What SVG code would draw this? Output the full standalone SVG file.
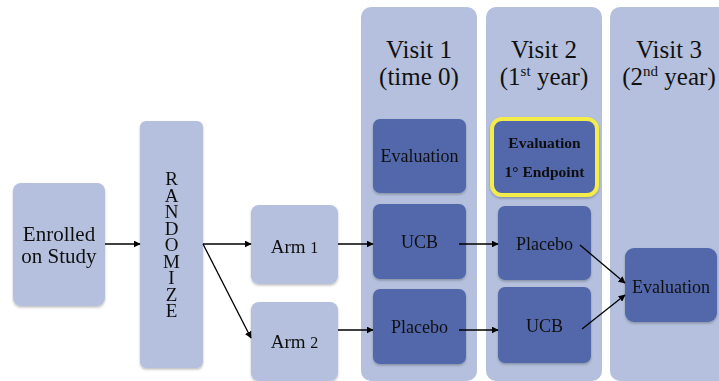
<svg xmlns="http://www.w3.org/2000/svg" width="719" height="381" viewBox="0 0 719 381" font-family="'Liberation Serif', 'Times New Roman', 'DejaVu Serif', serif">
<defs>
<style>
.lt{fill:#B4C0DD}
.dk{fill:#5367AA}
text{font-family:'Liberation Serif','Times New Roman','DejaVu Serif',serif;fill:#111;text-anchor:middle}
.hd{font-size:25px}
.bx{font-size:18px}
.vt{writing-mode:vertical-rl;text-orientation:upright;text-anchor:start;font-size:19px;letter-spacing:-4.5px}
.cn{stroke:#000;stroke-width:1.3;fill:none;marker-end:url(#ah)}
</style>
<marker id="ah" viewBox="0 0 10 10" refX="9" refY="5" markerWidth="7" markerHeight="7" orient="auto" markerUnits="userSpaceOnUse">
<path d="M0,0 L10,5 L0,10 z" fill="#000"/>
</marker>
<filter id="sh" x="-10%" y="-10%" width="120%" height="125%">
<feDropShadow dx="0" dy="1.5" stdDeviation="1" flood-color="#000" flood-opacity="0.25"/>
</filter>
</defs>
<rect width="719" height="381" fill="#fff"/>

<g id="col-visit1">
<rect class="lt" x="361" y="7" width="116" height="374" rx="10"/>
<text class="hd" x="419" y="58">Visit 1</text>
<text class="hd" x="419" y="85">(time 0)</text>
</g>
<g id="col-visit2">
<rect class="lt" x="486" y="7" width="116" height="374" rx="10"/>
<text class="hd" x="544" y="58">Visit 2</text>
<text class="hd" x="544" y="85">(1<tspan font-size="15" dy="-9">st</tspan><tspan dy="9"> year)</tspan></text>
</g>
<g id="col-visit3">
<rect class="lt" x="610" y="7" width="120" height="374" rx="10"/>
<text class="hd" x="669" y="58">Visit 3</text>
<text class="hd" x="669" y="85">(2<tspan font-size="15" dy="-9">nd</tspan><tspan dy="9"> year)</tspan></text>
</g>

<g id="enrolled" filter="url(#sh)">
<rect class="lt" x="13" y="183" width="92" height="123" rx="8"/>
<text font-size="21" x="59" y="241">Enrolled</text>
<text font-size="21" x="59" y="263">on Study</text>
</g>
<g id="randomize" filter="url(#sh)">
<rect class="lt" x="140" y="121" width="63" height="247" rx="6"/>
<text class="vt" x="171.5" y="168">RANDOMIZE</text>
</g>
<g id="arm1" filter="url(#sh)">
<rect class="lt" x="251" y="205" width="87" height="79" rx="8"/>
<text font-size="19" x="294.5" y="253">Arm <tspan font-size="16">1</tspan></text>
</g>
<g id="arm2" filter="url(#sh)">
<rect class="lt" x="251" y="302" width="87" height="79" rx="8"/>
<text font-size="19" x="294.5" y="348">Arm <tspan font-size="16">2</tspan></text>
</g>

<g id="v1-eval" filter="url(#sh)">
<rect class="dk" x="373" y="119" width="93" height="74" rx="7"/>
<text class="bx" x="419.5" y="162">Evaluation</text>
</g>
<g id="v1-ucb" filter="url(#sh)">
<rect class="dk" x="373" y="204" width="93" height="75" rx="7"/>
<text class="bx" x="419.5" y="248">UCB</text>
</g>
<g id="v1-placebo" filter="url(#sh)">
<rect class="dk" x="373" y="289" width="93" height="75" rx="7"/>
<text class="bx" x="419.5" y="333">Placebo</text>
</g>
<g id="v2-endpoint" filter="url(#sh)">
<rect class="dk" x="492" y="119" width="105" height="76" rx="10" stroke="#F4EC4A" stroke-width="4"/>
<text font-size="15.5" font-weight="bold" x="544.5" y="148">Evaluation</text>
<text font-size="15.5" font-weight="bold" x="544.5" y="177">1° Endpoint</text>
</g>
<g id="v2-placebo" filter="url(#sh)">
<rect class="dk" x="498" y="206" width="93" height="74" rx="7"/>
<text class="bx" x="544.5" y="250">Placebo</text>
</g>
<g id="v2-ucb" filter="url(#sh)">
<rect class="dk" x="498" y="287" width="93" height="76" rx="7"/>
<text class="bx" x="544.5" y="332">UCB</text>
</g>
<g id="v3-eval" filter="url(#sh)">
<rect class="dk" x="625" y="248" width="92" height="74" rx="9"/>
<text class="bx" x="671" y="293">Evaluation</text>
</g>

<g id="connectors">
<line class="cn" x1="105" y1="244" x2="140" y2="244"/>
<line class="cn" x1="203" y1="244" x2="251" y2="244"/>
<line class="cn" x1="203" y1="244" x2="251" y2="338"/>
<line class="cn" x1="338" y1="244" x2="373" y2="244"/>
<line class="cn" x1="338" y1="330" x2="373" y2="330"/>
<line class="cn" x1="459" y1="244" x2="498" y2="244"/>
<line class="cn" x1="459" y1="330" x2="498" y2="330"/>
<line class="cn" x1="580" y1="245" x2="625" y2="283"/>
<line class="cn" x1="582" y1="329" x2="625" y2="295"/>
</g>
</svg>
